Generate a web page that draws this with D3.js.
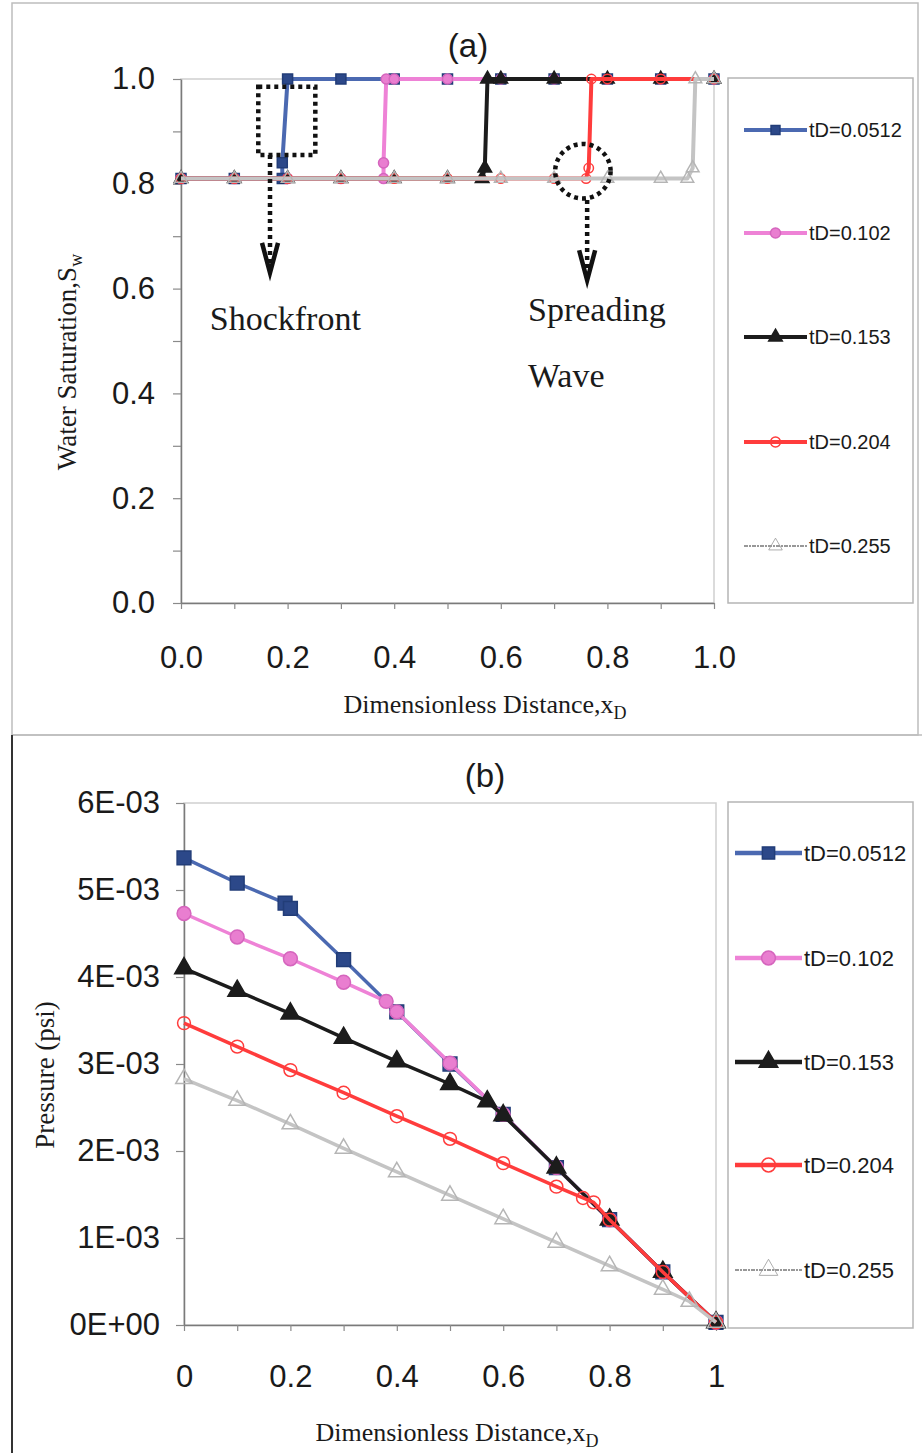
<!DOCTYPE html>
<html>
<head>
<meta charset="utf-8">
<script src="https://cdn.jsdelivr.net/npm/d3@7"></script>
<style>
  body { margin: 0; background: #fff; }
  svg { display: block; }
</style>
</head>
<body>
<div id="chart"></div>
<script>
// series labels
const seriesNames = ['tD=0.0512', 'tD=0.102', 'tD=0.153', 'tD=0.204', 'tD=0.255'];

// (a) water saturation vs xD
const sw0512X = [0, 0.1, 0.19, 0.19, 0.2, 0.3, 0.4, 0.5, 0.6, 0.7, 0.8, 0.9, 1.0];
const sw0512  = [0.81, 0.81, 0.81, 0.84, 1, 1, 1, 1, 1, 1, 1, 1, 1];
const sw102X  = [0, 0.1, 0.2, 0.3, 0.38, 0.38, 0.385, 0.4, 0.5, 0.6, 0.7, 0.8, 0.9, 1.0];
const sw102   = [0.81, 0.81, 0.81, 0.81, 0.81, 0.84, 1, 1, 1, 1, 1, 1, 1, 1];
const sw153X  = [0, 0.1, 0.2, 0.3, 0.4, 0.5, 0.565, 0.57, 0.575, 0.6, 0.7, 0.8, 0.9, 1.0];
const sw153   = [0.81, 0.81, 0.81, 0.81, 0.81, 0.81, 0.81, 0.83, 1, 1, 1, 1, 1, 1];
const sw204X  = [0, 0.1, 0.2, 0.3, 0.4, 0.5, 0.6, 0.7, 0.76, 0.765, 0.77, 0.8, 0.9, 1.0];
const sw204   = [0.81, 0.81, 0.81, 0.81, 0.81, 0.81, 0.81, 0.81, 0.81, 0.83, 1, 1, 1, 1];
const sw255X  = [0, 0.1, 0.2, 0.3, 0.4, 0.5, 0.6, 0.7, 0.8, 0.9, 0.95, 0.96, 0.965, 1.0];
const sw255   = [0.81, 0.81, 0.81, 0.81, 0.81, 0.81, 0.81, 0.81, 0.81, 0.81, 0.81, 0.83, 1, 1];

// (b) pressure vs xD, in units of 1E-03 psi
const p0512X = [0, 0.1, 0.19, 0.2, 0.3, 0.4, 0.5, 0.6, 0.7, 0.8, 0.9, 1.0];
const p0512  = [5.37, 5.08, 4.85, 4.79, 4.20, 3.60, 3.00, 2.42, 1.81, 1.21, 0.61, 0.03];
const p102X  = [0, 0.1, 0.2, 0.3, 0.38, 0.4, 0.5, 0.6, 0.7, 0.8, 0.9, 1.0];
const p102   = [4.73, 4.46, 4.21, 3.94, 3.72, 3.60, 3.01, 2.42, 1.81, 1.21, 0.61, 0.03];
const p153X  = [0, 0.1, 0.2, 0.3, 0.4, 0.5, 0.57, 0.6, 0.7, 0.8, 0.9, 1.0];
const p153   = [4.10, 3.84, 3.58, 3.30, 3.03, 2.77, 2.57, 2.41, 1.81, 1.21, 0.61, 0.03];
const p204X  = [0, 0.1, 0.2, 0.3, 0.4, 0.5, 0.6, 0.7, 0.75, 0.77, 0.8, 0.9, 1.0];
const p204   = [3.47, 3.20, 2.93, 2.67, 2.40, 2.14, 1.86, 1.59, 1.46, 1.41, 1.21, 0.61, 0.03];
const p255X  = [0, 0.1, 0.2, 0.3, 0.4, 0.5, 0.6, 0.7, 0.8, 0.9, 0.95, 1.0];
const p255   = [2.83, 2.58, 2.31, 2.03, 1.76, 1.49, 1.22, 0.95, 0.68, 0.41, 0.27, 0.03];

// ticks
const xTicksMinor = d3.range(0, 11).map(i => i / 10);
const swTicks = d3.range(0, 11).map(i => i / 10);
const pTicks = [0, 1, 2, 3, 4, 5, 6];

// annotations in data units of panel (a)
const shockBox = { x0: 0.145, x1: 0.252, y0: 0.855, y1: 0.985 };
const shockArrow = { x: 0.167, yFrom: 0.855, yTo: 0.63 };
const shockLabel = { x: 0.054, y: 0.521, text: 'Shockfront' };
const spreadRing = { x: 0.754, y: 0.824, r: 0.052 };
const spreadArrow = { x: 0.762, yFrom: 0.769, yTo: 0.616 };
const spreadLabels = [
  { x: 0.651, y: 0.538, text: 'Spreading' },
  { x: 0.651, y: 0.412, text: 'Wave' }
];

const lineColors   = ['#4b69b1', '#ee82d6', '#1c1c1c', '#ff3c3c', '#c4c4c4'];
const markerFills  = ['#2c4889', '#e97ed0', '#1c1c1c', 'none', 'none'];
const markerStroke = ['#223d78', '#d565bd', '#1c1c1c', '#ff3c3c', '#b5b5b5'];
const symbols = [d3.symbolSquare, d3.symbolCircle, d3.symbolTriangle, d3.symbolCircle, d3.symbolTriangle];

const SANS = '"Liberation Sans", Arial, sans-serif';
const SERIF = '"Liberation Serif", "Times New Roman", serif';

const svg = d3.select('#chart').append('svg').attr('width', 922).attr('height', 1453);

// outer frames
svg.append('rect').attr('x', 12).attr('y', 3).attr('width', 906).attr('height', 732)
  .attr('fill', 'none').attr('stroke', '#bdbdbd').attr('stroke-width', 1.5);
svg.append('line').attr('x1', 12).attr('x2', 922).attr('y1', 735).attr('y2', 735)
  .attr('stroke', '#bdbdbd').attr('stroke-width', 1.5);
svg.append('line').attr('x1', 12).attr('x2', 12).attr('y1', 735).attr('y2', 1453)
  .attr('stroke', '#333').attr('stroke-width', 2);

function zip(xs, ys){ return xs.map((x, i) => ({ x, y: ys[i] })); }

function drawPanel(cfg){
  const { x, y, series, yTickValues, yFmt, xFmt, xPad, yPad, markerSize, lineWidth } = cfg;
  const g = svg.append('g');
  const [x0, x1] = x.range();
  const [y0, y1] = y.range();

  // plot border
  g.append('rect').attr('x', x0).attr('y', y1).attr('width', x1 - x0).attr('height', y0 - y1)
    .attr('fill', 'none').attr('stroke', '#cfcfcf').attr('stroke-width', 1.5);

  const ax = g.append('g').attr('transform', `translate(0,${y0})`)
    .call(d3.axisBottom(x).tickValues(xTicksMinor).tickSize(6).tickSizeOuter(0).tickPadding(xPad).tickFormat(xFmt));
  const ay = g.append('g').attr('transform', `translate(${x0},0)`)
    .call(d3.axisLeft(y).tickValues(yTickValues).tickSize(8).tickSizeOuter(0).tickPadding(yPad).tickFormat(yFmt));
  [ax, ay].forEach(a => {
    a.select('.domain').attr('stroke', '#7a7a7a').attr('stroke-width', 1.5);
    a.selectAll('.tick line').attr('stroke', '#8a8a8a').attr('stroke-width', 1.2);
    a.selectAll('.tick text').attr('font-family', SANS).attr('font-size', 31).attr('fill', '#1a1a1a');
  });

  const line = d3.line().x(d => x(d.x)).y(d => y(d.y));
  series.forEach((data, i) => {
    g.append('path').datum(data)
      .attr('fill', 'none')
      .attr('stroke', lineColors[i])
      .attr('stroke-width', lineWidth)
      .attr('stroke-linejoin', 'round')
      .attr('d', line);
    g.selectAll(null).data(data).join('path')
      .attr('transform', d => `translate(${x(d.x)},${y(d.y)})`)
      .attr('d', d3.symbol(symbols[i], markerSize[i]))
      .attr('fill', markerFills[i])
      .attr('stroke', markerStroke[i])
      .attr('stroke-width', 1.5);
  });

  // legend
  const L = cfg.legend;
  g.append('rect').attr('x', L.x).attr('y', L.top).attr('width', L.w).attr('height', L.h)
    .attr('fill', 'none').attr('stroke', '#b5b5b5').attr('stroke-width', 1.5);
  seriesNames.forEach((name, i) => {
    const ly = L.rows[i];
    const lg = g.append('g').attr('transform', `translate(${L.lx},${ly})`);
    const gray = i === 4;
    lg.append('line').attr('x1', 0).attr('x2', L.len).attr('y1', 0).attr('y2', 0)
      .attr('stroke', gray ? '#777' : lineColors[i])
      .attr('stroke-width', gray ? 1.5 : L.lw)
      .attr('stroke-dasharray', gray ? '4,1,2,1' : null);
    lg.append('path').attr('transform', `translate(${L.len / 2},0)`)
      .attr('d', d3.symbol(symbols[i], L.msize))
      .attr('fill', gray ? 'none' : markerFills[i])
      .attr('stroke', gray ? '#999' : markerStroke[i])
      .attr('stroke-width', gray ? 0.8 : 1.5);
    lg.append('text').attr('x', L.len + 2).attr('y', 0).attr('dy', '0.35em')
      .attr('font-family', SANS).attr('font-size', L.font).attr('fill', '#1a1a1a')
      .text(name);
  });

  // title
  svg.append('text').attr('x', cfg.title.x).attr('y', cfg.title.y).attr('text-anchor', 'middle')
    .attr('font-family', SANS).attr('font-size', 33).attr('fill', '#1a1a1a').text(cfg.title.text);

  // axis titles
  const xt = svg.append('text').attr('x', cfg.xTitle.x).attr('y', cfg.xTitle.y).attr('text-anchor', 'middle')
    .attr('font-family', SERIF).attr('font-size', 26).attr('fill', '#1a1a1a');
  xt.append('tspan').text('Dimensionless Distance,x');
  xt.append('tspan').attr('dy', 6).attr('font-size', 18).text('D');

  const yt = svg.append('text')
    .attr('transform', `translate(${cfg.yTitle.x},${cfg.yTitle.y}) rotate(-90)`)
    .attr('text-anchor', 'middle')
    .attr('font-family', SERIF).attr('font-size', 27).attr('fill', '#1a1a1a');
  yt.append('tspan').text(cfg.yTitle.text);
  if (cfg.yTitle.sub) yt.append('tspan').attr('dy', 6).attr('font-size', 18).text(cfg.yTitle.sub);

  return g;
}

// panel (a)
const xA = d3.scaleLinear().domain([0, 1]).range([181, 714]);
const yA = d3.scaleLinear().domain([0, 1]).range([603, 79]);
const gA = drawPanel({
  x: xA, y: yA,
  series: [zip(sw0512X, sw0512), zip(sw102X, sw102), zip(sw153X, sw153), zip(sw204X, sw204), zip(sw255X, sw255)],
  yTickValues: swTicks,
  yFmt: d => Math.round(d * 10) % 2 ? '' : d3.format('.1f')(d),
  xFmt: d => Math.round(d * 10) % 2 ? '' : d3.format('.1f')(d),
  xPad: 37, yPad: 18,
  markerSize: [100, 80, 80, 70, 70],
  lineWidth: 4,
  legend: { x: 728, top: 78, w: 185, h: 525, lx: 744, len: 63, lw: 4, msize: 80, font: 20,
            rows: [130, 233, 337, 442, 546] },
  title: { x: 468, y: 57, text: '(a)' },
  xTitle: { x: 485, y: 713 },
  yTitle: { x: 76, y: 362, text: 'Water Saturation,S', sub: 'w' }
});

// annotations on (a)
const dotted = { stroke: '#111', 'stroke-width': 4.5, 'stroke-dasharray': '4,4', fill: 'none' };
function applyAttrs(sel, attrs){ Object.entries(attrs).forEach(([k, v]) => sel.attr(k, v)); return sel; }

applyAttrs(gA.append('rect')
  .attr('x', xA(shockBox.x0)).attr('y', yA(shockBox.y1))
  .attr('width', xA(shockBox.x1) - xA(shockBox.x0)).attr('height', yA(shockBox.y0) - yA(shockBox.y1)), dotted);

function dottedArrow(a){
  const ax = xA(a.x), yFrom = yA(a.yFrom), yTo = yA(a.yTo);
  applyAttrs(gA.append('line').attr('x1', ax).attr('x2', ax).attr('y1', yFrom).attr('y2', yTo - 4), dotted);
  gA.append('path')
    .attr('d', `M${ax - 8},${yTo - 30}L${ax},${yTo}L${ax + 8},${yTo - 30}`)
    .attr('fill', 'none').attr('stroke', '#111').attr('stroke-width', 4.5);
}
dottedArrow(shockArrow);
dottedArrow(spreadArrow);

applyAttrs(gA.append('ellipse')
  .attr('cx', xA(spreadRing.x)).attr('cy', yA(spreadRing.y))
  .attr('rx', xA(spreadRing.r) - xA(0)).attr('ry', yA(0) - yA(spreadRing.r)), dotted);

[shockLabel, ...spreadLabels].forEach(t => {
  gA.append('text').attr('x', xA(t.x)).attr('y', yA(t.y))
    .attr('font-family', SERIF).attr('font-size', 34).attr('fill', '#1a1a1a')
    .text(t.text);
});

// panel (b)
const xB = d3.scaleLinear().domain([0, 1]).range([184, 716]);
const yB = d3.scaleLinear().domain([0, 6]).range([1325, 803]);
drawPanel({
  x: xB, y: yB,
  series: [zip(p0512X, p0512), zip(p102X, p102), zip(p153X, p153), zip(p204X, p204), zip(p255X, p255)],
  yTickValues: pTicks,
  yFmt: d => d === 0 ? '0E+00' : `${d}E-03`,
  xFmt: d => Math.round(d * 10) % 2 ? '' : d3.format('~g')(d),
  xPad: 34, yPad: 16,
  markerSize: [190, 150, 150, 130, 120],
  lineWidth: 3.5,
  legend: { x: 728, top: 802, w: 185, h: 526, lx: 735, len: 67, lw: 4.5, msize: 150, font: 22,
            rows: [853, 958, 1062, 1165, 1270] },
  title: { x: 485, y: 787, text: '(b)' },
  xTitle: { x: 457, y: 1441 },
  yTitle: { x: 54, y: 1075, text: 'Pressure (psi)' }
});
</script>
</body>
</html>
